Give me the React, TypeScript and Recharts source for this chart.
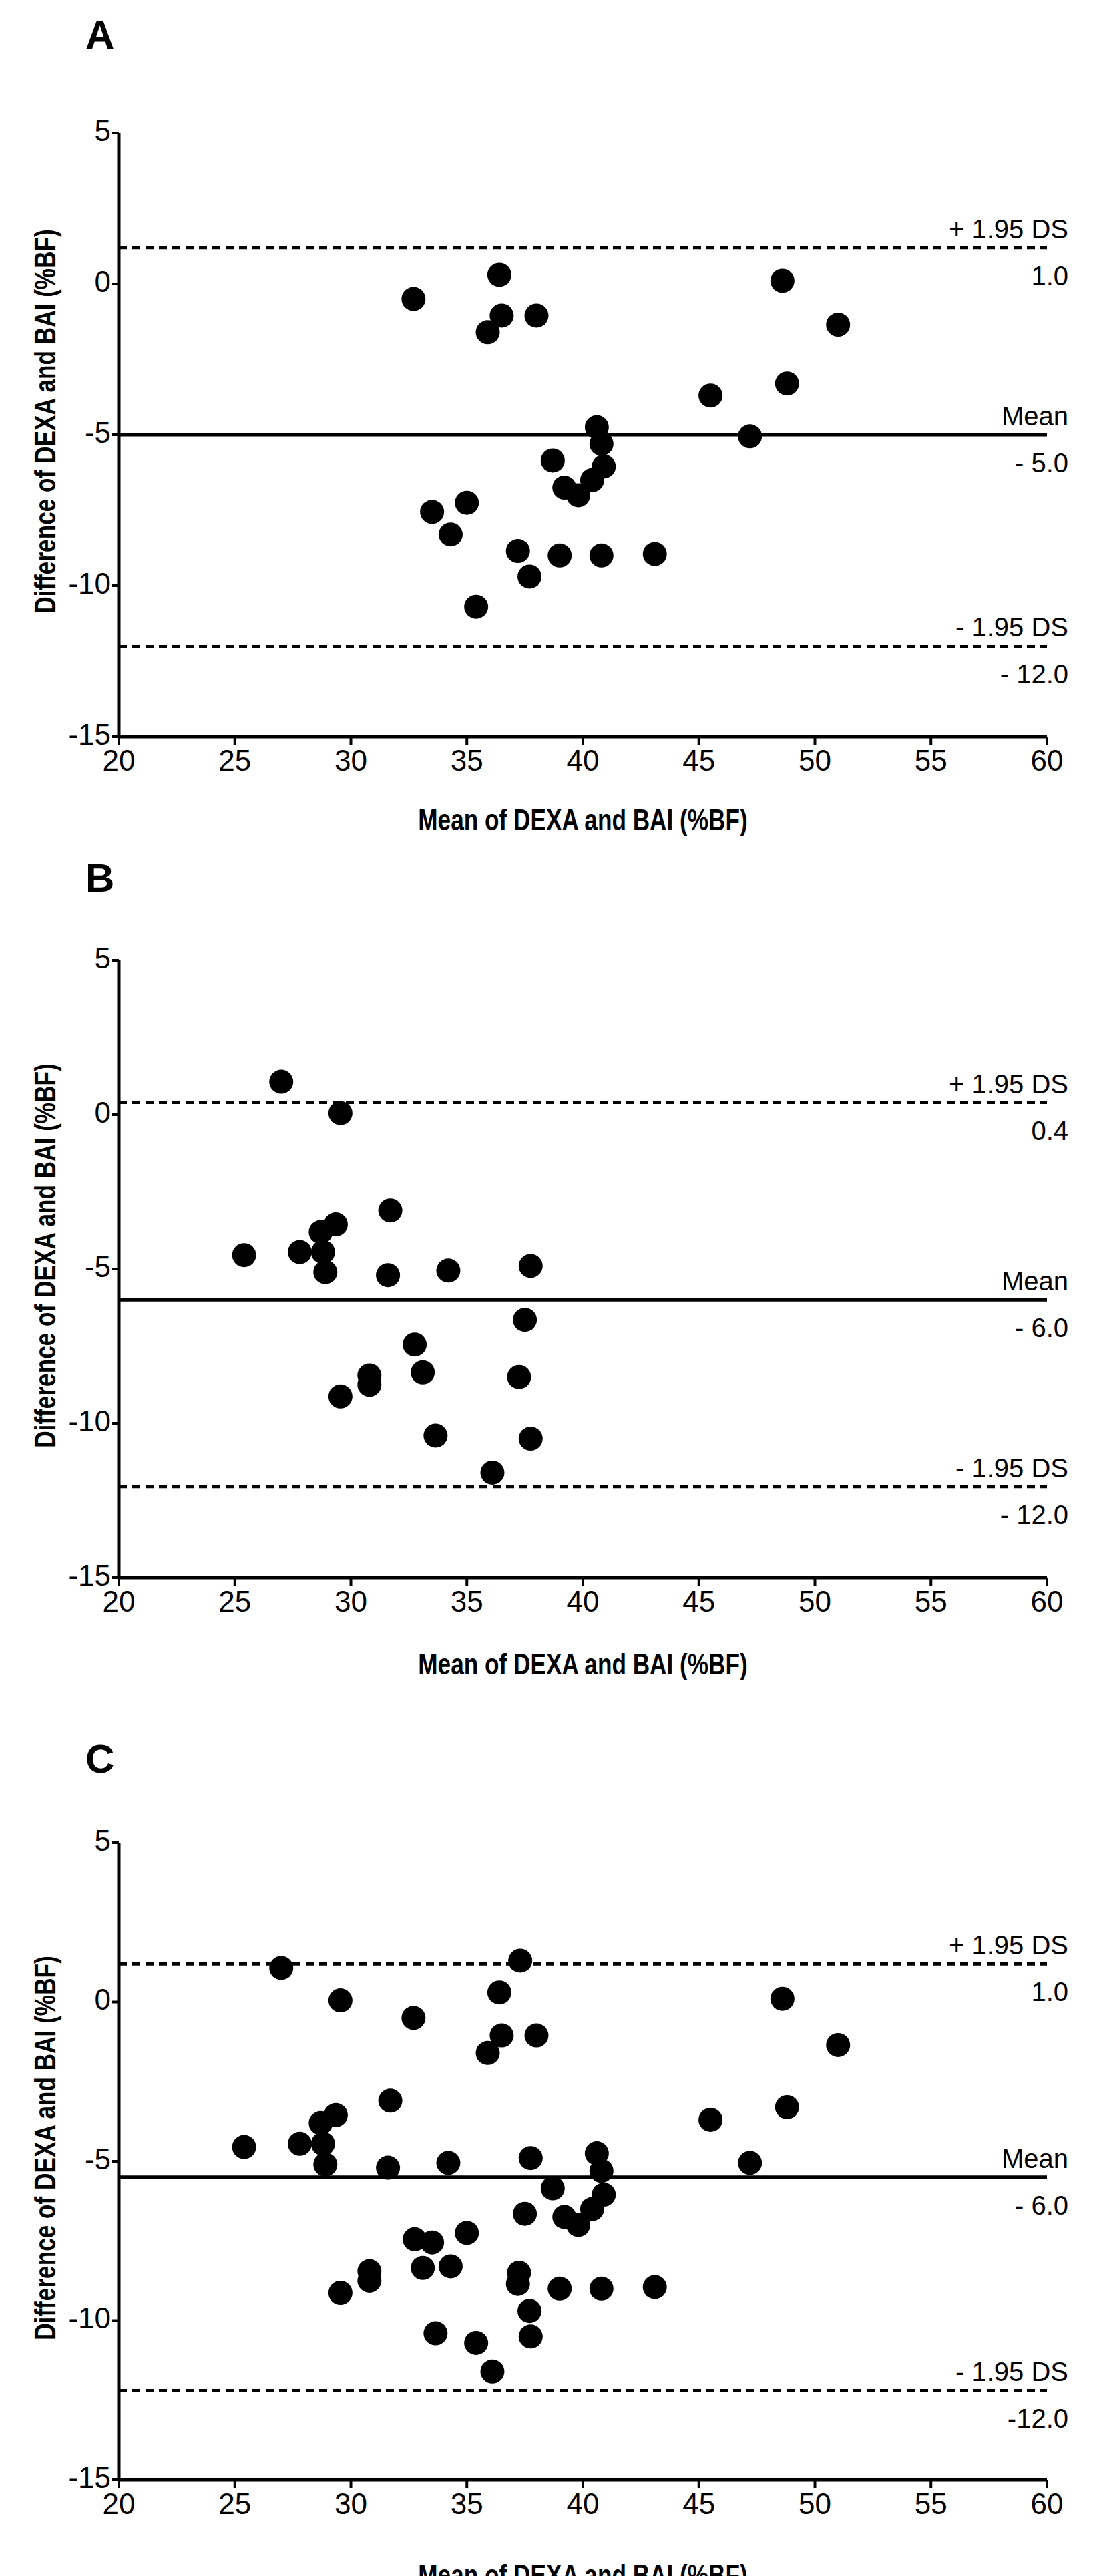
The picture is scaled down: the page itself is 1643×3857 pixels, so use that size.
import { Scatter, ScatterChart, XAxis, YAxis, ReferenceLine } from 'recharts';

// Bland-Altman plots, three panels (A, B, C)

const panelA = [
  [32.7, -0.5], [36.4, 0.3], [36.5, -1.05], [38.0, -1.05], [35.9, -1.6],
  [48.6, 0.1], [51.0, -1.35], [48.8, -3.3], [45.5, -3.7], [47.2, -5.05],
  [40.6, -4.75], [40.8, -5.3], [40.9, -6.05], [38.7, -5.85], [40.4, -6.5],
  [39.2, -6.75], [39.8, -7.0], [35.0, -7.25], [33.5, -7.55], [34.3, -8.3],
  [37.2, -8.85], [39.0, -9.0], [40.8, -9.0], [43.1, -8.95], [37.7, -9.7],
  [35.4, -10.7],
];

const panelB = [
  [27.0, 1.07], [29.55, 0.05], [31.7, -3.1], [29.35, -3.55], [28.7, -3.8],
  [25.4, -4.55], [27.8, -4.45], [28.8, -4.45], [28.9, -5.1], [31.6, -5.2],
  [34.2, -5.05], [37.75, -4.9], [37.5, -6.65], [32.75, -7.45], [33.1, -8.35],
  [30.8, -8.45], [30.8, -8.75], [29.55, -9.13], [37.25, -8.5], [33.65, -10.4],
  [37.75, -10.5], [36.1, -11.6],
];

const panelCExtra = [[37.3, 1.3]];

const limitsA = { upper: 1.2, mean: -5.0, lower: -12.0, upperText: '1.0', meanText: '- 5.0', lowerText: '- 12.0' };
const limitsB = { upper: 0.4, mean: -6.0, lower: -12.05, upperText: '0.4', meanText: '- 6.0', lowerText: '- 12.0' };
const limitsC = { upper: 1.2, mean: -5.5, lower: -12.2, upperText: '1.0', meanText: '- 6.0', lowerText: '-12.0' };

const xTicks = [20, 25, 30, 35, 40, 45, 50, 55, 60];
const yTicks = [-15, -10, -5, 0, 5];

const FONT = '"Liberation Sans", Arial, sans-serif';
const W = 1643;
const TOP = 176;
const BOTTOM = 170;

function Dot(props: any) {
  const { cx, cy } = props;
  return <circle cx={cx} cy={cy} r={18} fill="#000" />;
}

function sideLabel(above: string, below: string) {
  return ({ viewBox }: any) => {
    const x = viewBox.x + viewBox.width + 32;
    return (
      <g fontFamily={FONT} fontSize={40} fill="#000">
        <text x={x} y={viewBox.y - 14} textAnchor="end">{above}</text>
        <text x={x} y={viewBox.y + 56} textAnchor="end">{below}</text>
      </g>
    );
  };
}

function Panel({ letter, points, limits, plotTop, plotHeight, letterTop, titleTop }: any) {
  const data = points.map(([x, y]: number[]) => ({ x, y }));
  const top = plotTop - TOP;
  const H = TOP + plotHeight + BOTTOM;
  const titleStyle: any = { fontFamily: FONT, fontWeight: 'bold', fontSize: 44, whiteSpace: 'nowrap' };
  return (
    <div style={{ position: 'absolute', left: 0, top, width: W, height: H }}>
      <ScatterChart width={W} height={H} margin={{ top: TOP, right: 75, bottom: BOTTOM - 50, left: 58 }}>
        <XAxis
          type="number"
          dataKey="x"
          domain={[20, 60]}
          ticks={xTicks}
          height={50}
          axisLine={{ stroke: '#000', strokeWidth: 5 }}
          tickLine={{ stroke: '#000', strokeWidth: 4 }}
          tickSize={12}
          tick={{ fill: '#000', fontSize: 44, fontFamily: FONT, dy: 6 }}
        />
        <YAxis
          type="number"
          dataKey="y"
          domain={[-15, 5]}
          ticks={yTicks}
          width={120}
          axisLine={{ stroke: '#000', strokeWidth: 5 }}
          tickLine={{ stroke: '#000', strokeWidth: 4 }}
          tickSize={10}
          tick={{ fill: '#000', fontSize: 44, fontFamily: FONT, dy: -4 }}
        />
        <ReferenceLine y={limits.upper} stroke="#000" strokeWidth={5} strokeDasharray="12 8" label={sideLabel('+ 1.95 DS', limits.upperText)} />
        <ReferenceLine y={limits.mean} stroke="#000" strokeWidth={5} label={sideLabel('Mean', limits.meanText)} />
        <ReferenceLine y={limits.lower} stroke="#000" strokeWidth={5} strokeDasharray="12 8" label={sideLabel('- 1.95 DS', limits.lowerText)} />
        <Scatter data={data} shape={Dot} isAnimationActive={false} />
      </ScatterChart>
      <div style={{ position: 'absolute', left: 128, top: letterTop - top - 12, fontFamily: FONT, fontWeight: 'bold', fontSize: 60, lineHeight: '68px' }}>{letter}</div>
      <div style={{ position: 'absolute', left: 873, top: titleTop - top - 8, transform: 'translateX(-50%) scaleX(0.8)', ...titleStyle }}>
        Mean of DEXA and BAI (%BF)
      </div>
      <div
        style={{
          position: 'absolute', left: 68, top: TOP + plotHeight / 2 - 20,
          transform: 'translate(-50%, -50%) rotate(-90deg) scaleX(0.8)', ...titleStyle,
        }}
      >
        Difference of DEXA and BAI (%BF)
      </div>
    </div>
  );
}

export default function App() {
  return (
    <div style={{ position: 'absolute', left: 0, top: 0, width: W, height: 3857, overflow: 'hidden', background: '#fff' }}>
      <Panel letter="A" points={panelA} limits={limitsA} plotTop={199} plotHeight={904} letterTop={31} titleTop={1211} />
      <Panel letter="B" points={panelB} limits={limitsB} plotTop={1438} plotHeight={924} letterTop={1293} titleTop={2475} />
      <Panel letter="C" points={[...panelA, ...panelB, ...panelCExtra]} limits={limitsC} plotTop={2759} plotHeight={954} letterTop={2612} titleTop={3839} />
    </div>
  );
}
